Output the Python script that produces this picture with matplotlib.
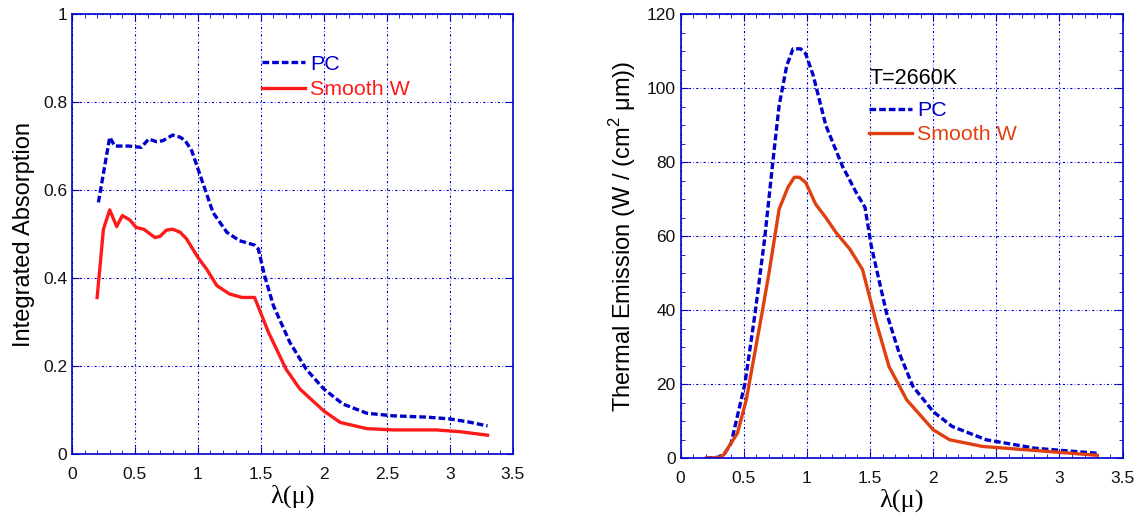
import numpy as np
import matplotlib
matplotlib.use("Agg")
import matplotlib.pyplot as plt
from matplotlib.ticker import MultipleLocator, FormatStrFormatter

plt.rcParams['font.family'] = ['Liberation Sans', 'DejaVu Sans']
plt.rcParams['mathtext.fontset'] = 'custom'
plt.rcParams['mathtext.rm'] = 'Liberation Sans'

# Integrated absorption (left)
wl_pc_abs = [0.21, 0.30, 0.34, 0.45, 0.55, 0.61, 0.67, 0.72, 0.80, 0.86, 0.90, 0.95, 1.02,
             1.12, 1.23, 1.33, 1.45, 1.48, 1.53, 1.60, 1.73, 1.86, 2.0, 2.15, 2.34,
             2.55, 2.82, 3.0, 3.15, 3.30]
pc_abs = [0.572, 0.72, 0.70, 0.70, 0.697, 0.716, 0.71, 0.712, 0.725, 0.72, 0.712, 0.69, 0.632,
          0.549, 0.504, 0.485, 0.475, 0.466, 0.405, 0.337, 0.254, 0.193, 0.148, 0.114, 0.093,
          0.087, 0.084, 0.080, 0.073, 0.064]
wl_w_abs = [0.20, 0.25, 0.30, 0.355, 0.40, 0.46, 0.51, 0.57, 0.66, 0.70, 0.75, 0.80, 0.86,
            0.91, 1.0, 1.07, 1.15, 1.25, 1.35, 1.45, 1.56, 1.70, 1.81, 2.0, 2.13, 2.34,
            2.55, 2.89, 3.08, 3.30]
w_abs = [0.356, 0.511, 0.555, 0.517, 0.542, 0.532, 0.515, 0.511, 0.492, 0.495, 0.509, 0.511, 0.504,
         0.489, 0.447, 0.42, 0.383, 0.364, 0.356, 0.356, 0.277, 0.193, 0.148, 0.098, 0.072, 0.058,
         0.055, 0.055, 0.051, 0.043]

# Thermal emission at T=2660K (right)
wl_pc_em = [0.20, 0.30, 0.35, 0.40, 0.51, 0.59, 0.665, 0.73, 0.78, 0.84, 0.89, 0.95, 0.99,
            1.05, 1.15, 1.28, 1.39, 1.46, 1.51, 1.63, 1.73, 1.84, 2.0, 2.15, 2.42, 2.81, 3.30]
pc_em = [0.0, 0.3, 1.35, 4.1, 20.3, 39.3, 59.2, 80.0, 95.3, 106.0, 110.6, 110.6, 109.3,
         103.4, 89.9, 79.0, 71.8, 67.8, 57.3, 39.3, 28.5, 19.4, 12.6, 8.6, 5.0, 2.7, 1.35]
wl_w_em = [0.20, 0.30, 0.34, 0.45, 0.52, 0.64, 0.70, 0.78, 0.85, 0.90, 0.94, 0.99, 1.07,
           1.15, 1.23, 1.34, 1.44, 1.55, 1.65, 1.79, 2.0, 2.13, 2.39, 2.81, 3.30]
w_em = [0.0, 0.2, 0.9, 6.8, 15.8, 38.4, 50.1, 67.3, 73.2, 75.9, 75.9, 74.5, 68.6,
        65.0, 61.0, 56.5, 51.0, 36.6, 24.8, 15.8, 7.7, 5.0, 3.2, 2.1, 0.8]

blue = '#0000cc'
red = '#ff1a1a'
orange = '#e0400f'

fig = plt.figure(figsize=(11.42, 5.19), dpi=100)
ax1 = fig.add_axes([0.063, 0.125, 0.386, 0.848])
ax2 = fig.add_axes([0.596, 0.117, 0.387, 0.856])

def style_axes(ax):
    for s in ax.spines.values():
        s.set_color(blue)
        s.set_linewidth(1.2)
    ax.grid(True, which='major', color=blue, linestyle=(0, (2, 2, 0.6, 2)), linewidth=0.8)
    ax.tick_params(which='both', direction='in', color=blue, top=True, right=True,
                   labelsize=12.5, labelcolor='#111111')
    ax.tick_params(which='major', length=5)
    ax.tick_params(which='minor', length=3)
    ax.tick_params(axis='x', pad=9)
    ax.set_xlim(0, 3.5)
    ax.xaxis.set_major_locator(MultipleLocator(0.5))
    ax.xaxis.set_minor_locator(MultipleLocator(0.1))
    ax.xaxis.set_major_formatter(FormatStrFormatter('%g'))
    ax.yaxis.set_major_formatter(FormatStrFormatter('%g'))
    ax.set_xlabel('λ(μ)', fontfamily='Liberation Serif', fontsize=19, labelpad=2)

dash = (0, (2.0, 0.9))
leg_kw = dict(loc='upper left', frameon=False, fontsize=15.4, handlelength=2.0,
              handletextpad=0.25, labelspacing=0.25, borderpad=0, labelcolor='linecolor')

# left panel
ax1.plot(wl_pc_abs, pc_abs, color=blue, linestyle=dash, linewidth=2.4, label='PC')
ax1.plot(wl_w_abs, w_abs, color=red, linewidth=2.4, label='Smooth W')
style_axes(ax1)
ax1.set_ylim(0, 1)
ax1.yaxis.set_major_locator(MultipleLocator(0.2))
ax1.tick_params(axis='y', which='minor', left=False, right=False)
ax1.set_ylabel('Integrated Absorption', fontsize=17, labelpad=6)
ax1.legend(bbox_to_anchor=(0.407, 0.932), **dict(leg_kw, labelspacing=0.32))

# right panel
ax2.plot(wl_pc_em, pc_em, color=blue, linestyle=dash, linewidth=2.4, label='PC')
ax2.plot(wl_w_em, w_em, color=orange, linewidth=2.4, label='Smooth W')
style_axes(ax2)
ax2.set_ylim(0, 120)
ax2.yaxis.set_major_locator(MultipleLocator(20))
ax2.yaxis.set_minor_locator(MultipleLocator(5))
ax2.set_ylabel('Thermal Emission (W / (cm$^{2}$ μm))', fontsize=17, labelpad=6)
ax2.text(0.428, 0.855, 'T=2660K', transform=ax2.transAxes, fontsize=15.5, va='center', ha='left')
ax2.legend(bbox_to_anchor=(0.402, 0.828), **leg_kw)

fig.savefig('out.png', dpi=100)
